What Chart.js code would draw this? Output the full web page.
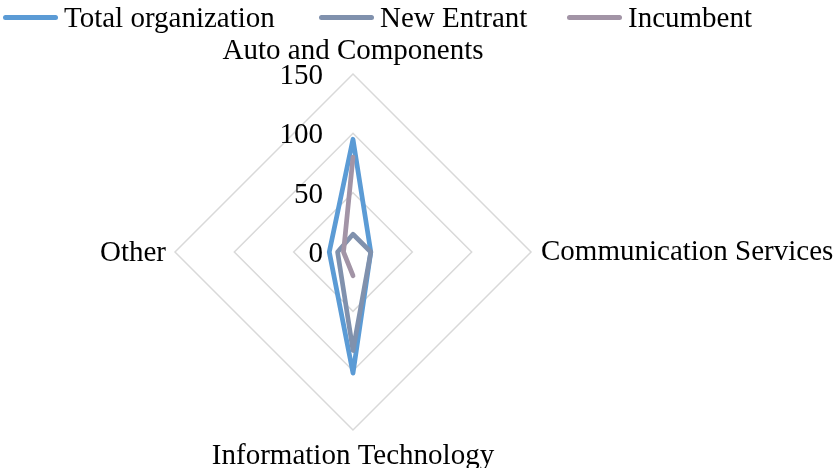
<!DOCTYPE html>
<html>
<head>
<meta charset="utf-8">
<script src="https://cdn.jsdelivr.net/npm/chart.js@4.4.0/dist/chart.umd.min.js"></script>
<style>
  html, body { margin: 0; padding: 0; background: #fff; }
  #wrap { position: relative; width: 835px; height: 468px; overflow: hidden; }
  #wrap canvas { position: absolute; left: 0; top: 0; }
  #legend {
    position: absolute; left: 0; top: 0; width: 835px; height: 34px;
    font-family: "Liberation Serif", "Times New Roman", serif; font-size: 29px; line-height: 34px; color: #000;
  }
  .lg-item { position: absolute; top: 0; height: 34px; display: flex; align-items: center; white-space: nowrap; }
  .lg-line { width: 55px; height: 5px; border-radius: 3px; margin-right: 6px; }
</style>
</head>
<body>
<div id="wrap">
  <canvas id="chart" width="835" height="468"></canvas>
  <div id="legend"></div>
</div>
<script>
// ── Données ─────────────────────────────────────────────────────
const CATEGORIES = ["Auto and Components", "Communication Services", "Information Technology", "Other"];
const TOTAL_ORG   = [95, 15, 102, 20];
const NEW_ENTRANT = [15, 15, 83, 13];
const INCUMBENT   = [80, null, 20, 8];   // pas de valeur pour Communication Services
const R_TICKS     = [0, 50, 100, 150];

const SERIES = [
  { label: "Total organization", data: TOTAL_ORG,   color: "#5b9bd5", order: 3 },
  { label: "New Entrant",        data: NEW_ENTRANT, color: "#8091ad", order: 2 },
  { label: "Incumbent",          data: INCUMBENT,   color: "#a294a6", order: 1 },
];

const FONT_FAMILY = "'Liberation Serif', 'Times New Roman', serif";
const FONT = "29px " + FONT_FAMILY;

// ── Légende HTML ────────────────────────────────────────────────
const LEGEND_LEFT = [3, 319, 567];
const legendEl = document.getElementById("legend");
SERIES.forEach((s, i) => {
  const item = document.createElement("div");
  item.className = "lg-item";
  item.style.left = LEGEND_LEFT[i] + "px";
  const line = document.createElement("span");
  line.className = "lg-line";
  line.style.background = s.color;
  item.appendChild(line);
  item.appendChild(document.createTextNode(s.label));
  legendEl.appendChild(item);
});

// ── Graduations et libellés des axes dessinés à la main ─────────
// (Chart.js n'affiche pas le 0 et centre les graduations sur l'axe)
const axisText = {
  id: "axisText",
  afterDraw(chart) {
    const r = chart.scales.r;
    const ctx = chart.ctx;
    ctx.save();
    ctx.font = FONT;
    ctx.fillStyle = "#000";
    ctx.textBaseline = "alphabetic";

    // graduations, alignées à droite, à gauche de l'axe vertical
    ctx.textAlign = "right";
    r.ticks.forEach(t => {
      const d = r.getDistanceFromCenterForValue(t.value);
      ctx.fillText(String(t.value), r.xCenter - 30, r.yCenter - d + 10);
    });

    // libellés des catégories
    const outer = r.drawingArea;
    CATEGORIES.forEach((label, i) => {
      const p = r.getPointPosition(i, outer);
      if (i === 0) {          // haut
        ctx.textAlign = "center";
        ctx.fillText(label, p.x, p.y - 15);
      } else if (i === 1) {   // droite
        ctx.textAlign = "left";
        ctx.fillText(label, p.x + 10, p.y + 8);
      } else if (i === 2) {   // bas
        ctx.textAlign = "center";
        ctx.fillText(label, p.x, p.y + 34);
      } else {                // gauche
        ctx.textAlign = "right";
        ctx.fillText(label, p.x - 9, p.y + 9);
      }
    });
    ctx.restore();
  }
};

new Chart(document.getElementById("chart"), {
  type: "radar",
  data: {
    labels: CATEGORIES,
    datasets: SERIES.map(s => ({
      label: s.label,
      data: s.data,
      order: s.order,
      borderColor: s.color,
      backgroundColor: s.color,
      borderWidth: 4.75,
      borderJoinStyle: "round",
      borderCapStyle: "round",
      fill: false,
      pointRadius: 0,
      pointHoverRadius: 0,
      spanGaps: false,
      tension: 0,
    })),
  },
  options: {
    responsive: false,
    animation: false,
    layout: { padding: { left: 175, right: 304, top: 74, bottom: 38 } },
    plugins: { legend: { display: false }, tooltip: { enabled: false } },
    scales: {
      r: {
        min: R_TICKS[0],
        max: R_TICKS[R_TICKS.length - 1],
        ticks: { stepSize: R_TICKS[1] - R_TICKS[0], display: false },
        grid: { circular: false, color: "#d9d9d9", lineWidth: 1.5 },
        angleLines: { display: false },
        pointLabels: { display: false },
      },
    },
  },
  plugins: [axisText],
});
</script>
</body>
</html>
